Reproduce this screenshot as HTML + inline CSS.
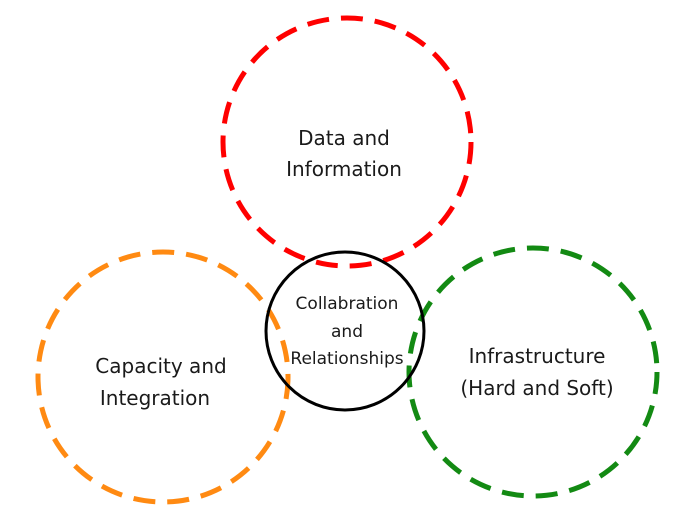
<!DOCTYPE html>
<html><head><style>
html,body{margin:0;padding:0;background:#fff;}
svg{display:block;}
text{font-family:"DejaVu Sans","Liberation Sans",sans-serif;fill:#1a1a1a;}
</style></head><body>
<svg width="696" height="520" viewBox="0 0 696 520">
<circle cx="347" cy="142" r="124" fill="none" stroke="#ff0000" stroke-width="5" stroke-dasharray="22 12"/>
<circle cx="163" cy="377" r="125" fill="none" stroke="#ff8a12" stroke-width="5" stroke-dasharray="22 12"/>
<circle cx="533" cy="372" r="124" fill="none" stroke="#138a13" stroke-width="5" stroke-dasharray="22 12"/>
<circle cx="345" cy="331" r="79" fill="none" stroke="#000" stroke-width="3"/>
<g font-size="20" text-anchor="middle">
<text x="344" y="145">Data and</text>
<text x="344" y="176">Information</text>
<text x="161" y="373">Capacity and</text>
<text x="155" y="405">Integration</text>
<text x="537" y="363">Infrastructure</text>
<text x="537" y="395">(Hard and Soft)</text>
</g>
<g font-size="17" text-anchor="middle">
<text x="347" y="309">Collabration</text>
<text x="347" y="337">and</text>
<text x="347" y="364">Relationships</text>
</g>
</svg>
</body></html>
